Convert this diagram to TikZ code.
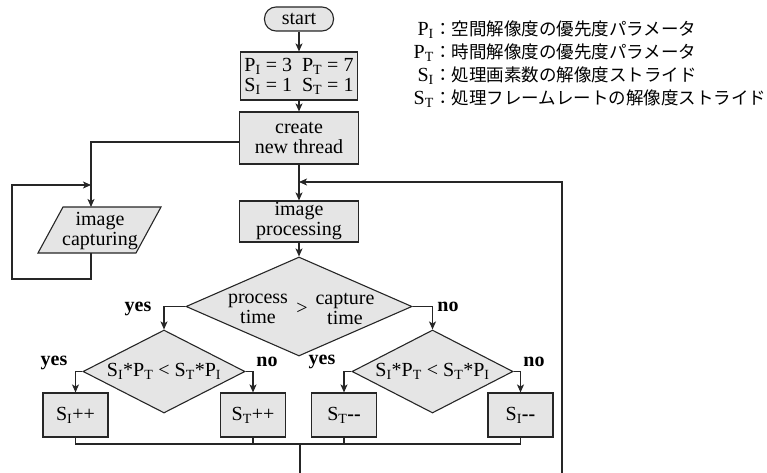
\documentclass[tikz,border=0pt]{standalone}
\usepackage{fontspec}
\setmainfont{Liberation Serif}
\newfontfamily\cjk{Noto Sans CJK JP}
\usetikzlibrary{shapes.geometric,arrows.meta}
\newcommand\sbI{\textsubscript{I}}
\newcommand\sbT{\textsubscript{T}}
\begin{document}
\begin{tikzpicture}[x=1pt,y=-1pt,
  every node/.style={font=\fontsize{20}{20}\selectfont, inner sep=0pt},
  box/.style={draw=black!85, fill=gray!20, line width=1.1pt, align=center},
  dec/.style={box, diamond},
  term/.style={box, rounded corners=11.5pt},
  conn/.style={draw=black!85, line width=1.1pt},
  arr/.style={conn, -{Stealth[length=8pt,width=7pt,inset=2pt]}},
  lbl/.style={font=\fontsize{20}{20}\selectfont\bfseries},
  cj/.style={font=\cjk\fontsize{17.5}{20}\selectfont},
]
\useasboundingbox (0,0) rectangle (767,473);

% main column
\node[term, minimum width=69, minimum height=24] (start) at (299,19) {start};
\node[box, minimum width=117, minimum height=48] (init) at (299,76)
  {P\sbI{} = 3\ \ P\sbT{} = 7\\S\sbI{} = 1\ \ S\sbT{} = 1};
\node[box, minimum width=119, minimum height=52] (create) at (299,138) {create\\new thread};
\node[box, minimum width=119, minimum height=41] (proc) at (299,221.5) {image\\processing};

% capture (parallelogram)
\filldraw[draw=black!85, fill=gray!20, line width=1.1pt]
  (63,207) -- (161,207) -- (136,253) -- (38,253) -- cycle;
\node[align=center] (cap) at (100,231) {image\\capturing};
\coordinate (capin) at (91,207);
\coordinate (capout) at (91,253);

% decisions
\node[dec, minimum width=226, minimum height=99] (d0) at (299,306.5) {};
\node[align=center] (t0a) at ([xshift=-41pt,yshift=-2pt]d0.center) {process\\time};
\node (t0b) at ([xshift=3pt,yshift=-2pt]d0.center) {>};
\node[align=center] (t0c) at ([xshift=46pt,yshift=-2pt]d0.center) {capture\\time};

\node[dec, minimum width=162, minimum height=83] (d1) at (164,371.5) {};
\node (t1) at (d1.center) {S\sbI*P\sbT{} < S\sbT*P\sbI};
\node[dec, minimum width=161, minimum height=83] (d2) at (432.5,371.5) {};
\node (t2) at (d2.center) {S\sbI*P\sbT{} < S\sbT*P\sbI};

% action boxes
\node[box, minimum width=65, minimum height=44] (b1) at (75.5,415) {S\sbI++};
\node[box, minimum width=65, minimum height=44] (b2) at (253,415) {S\sbT++};
\node[box, minimum width=65, minimum height=44] (b3) at (344,415) {S\sbT\textbf{-{}-}};
\node[box, minimum width=65, minimum height=44] (b4) at (520.5,415) {S\sbI\textbf{-{}-}};

% labels
\node[lbl] (y0) at (138,309) {yes};
\node[lbl] (n0) at (448,307) {no};
\node[lbl] (y1) at (54,363) {yes};
\node[lbl] (n1) at (267,362) {no};
\node[lbl] (y2) at (322,362) {yes};
\node[lbl] (n2) at (534,362) {no};

% coordinates
\coordinate (mL) at (75.5,444);
\coordinate (mR) at (520.5,444);
\coordinate (mC) at (300,444);
\coordinate (bot) at (300,473);
\coordinate (botr) at (562,473);
\coordinate (fb) at (562,182);
\coordinate (fbin) at (299,182);
\coordinate (lp1) at (91,279);
\coordinate (lp2) at (12,279);
\coordinate (lp3) at (12,185);
\coordinate (lp4) at (91,185);

% connectors
\draw[arr] (start) -- (init);
\draw[arr] (init) -- (create);
\draw[arr] (create) -- (proc);
\draw[arr] (proc) -- (d0);
\draw[arr] ([yshift=-4pt]create.west) -| (capin);
\draw[arr] (capout) -- (lp1) -- (lp2) -- (lp3) -- (lp4);
\draw[arr] (d0.west) -| (d1.north);
\draw[arr] (d0.east) -| (d2.north);
\draw[arr] (d1.west) -| (b1.north);
\draw[arr] (d1.east) -| (b2.north);
\draw[arr] (d2.west) -| (b3.north);
\draw[arr] (d2.east) -| (b4.north);
\draw[conn] (b1.south) -- (mL) -- (mR) -- (b4.south);
\draw[conn] (b2.south) -- (b2.south |- mL);
\draw[conn] (b3.south) -- (b3.south |- mL);
\draw[conn] (mC) -- (bot);
\draw[arr] (botr) -- (fb) -- (fbin);

% legend
\node[anchor=base east] (k1) at (434,35.7) {P\sbI};
\node[cj, anchor=base west] (v1) at (434,35.7) {：空間解像度の優先度パラメータ};
\node[anchor=base east] (k2) at (434,58.3) {P\sbT};
\node[cj, anchor=base west] (v2) at (434,58.3) {：時間解像度の優先度パラメータ};
\node[anchor=base east] (k3) at (434,81.7) {S\sbI};
\node[cj, anchor=base west] (v3) at (434,81.7) {：処理画素数の解像度ストライド};
\node[anchor=base east] (k4) at (434,104.3) {S\sbT};
\node[cj, anchor=base west] (v4) at (434,104.3) {：処理フレームレートの解像度ストライド};
\end{tikzpicture}
\end{document}
